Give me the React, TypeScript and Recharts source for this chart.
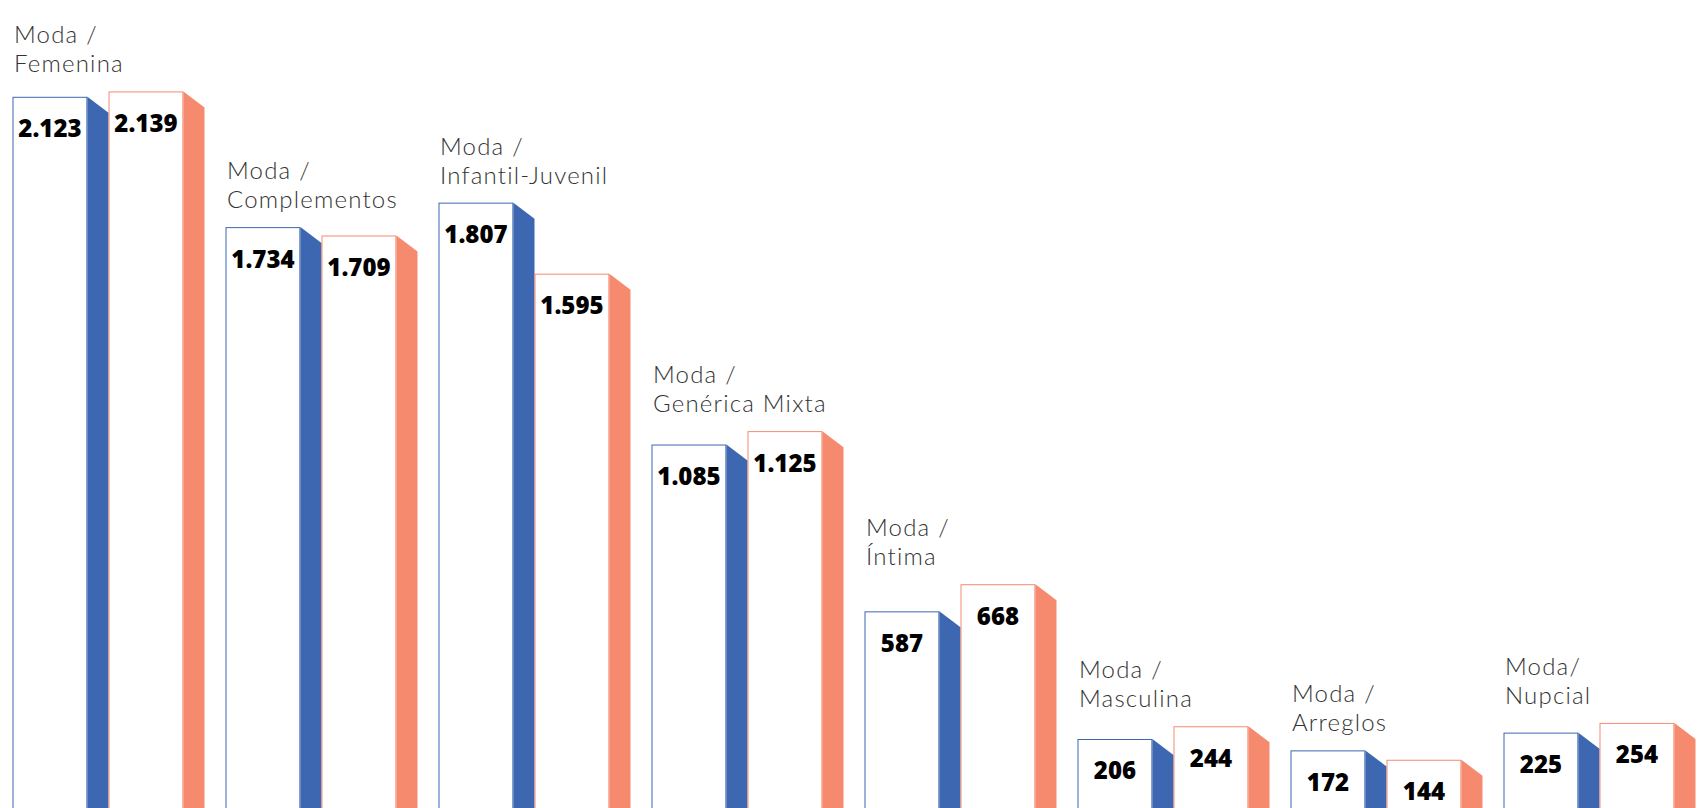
import { BarChart, Bar, XAxis, YAxis } from 'recharts';

const LINE_ONE = ['Moda /', 'Moda /', 'Moda /', 'Moda /', 'Moda /', 'Moda /', 'Moda /', 'Moda/'];
const LINE_TWO = [
  'Femenina',
  'Complementos',
  'Infantil-Juvenil',
  'Genérica Mixta',
  'Íntima',
  'Masculina',
  'Arreglos',
  'Nupcial',
];
const BLUE_VALUES = [2123, 1734, 1807, 1085, 587, 206, 172, 225];
const ORANGE_VALUES = [2139, 1709, 1595, 1125, 668, 244, 144, 254];

const BLUE = '#3D67B1';
const ORANGE = '#F58A6E';
const FACE_RATIO = 0.78;
const SLANT = 16;

const data = LINE_TWO.map((name, i) => ({
  name,
  top: LINE_ONE[i],
  blue: BLUE_VALUES[i],
  orange: ORANGE_VALUES[i],
}));

// 2123 -> "2.123"
const fmt = (n: number) => String(n).replace(/\B(?=(\d{3})+(?!\d))/g, '.');

const valueFont = "'Open Sans', 'DejaVu Sans', sans-serif";
const captionFont = "Lato, 'Open Sans', sans-serif";

function drawBox(props: any, color: string, value: number) {
  const { x, y, width, height } = props;
  const fw = width * FACE_RATIO;
  const bottom = y + height + 20;
  return (
    <g>
      <rect
        x={x + 0.5}
        y={y + 0.5}
        width={fw - 1}
        height={bottom - y}
        fill="#fff"
        stroke={color}
        strokeWidth={1}
      />
      <polygon
        points={`${x + fw},${y} ${x + width},${y + SLANT} ${x + width},${bottom} ${x + fw},${bottom}`}
        fill={color}
      />
      <text
        x={x + fw / 2}
        y={y + 31}
        textAnchor="middle"
        dominantBaseline="central"
        fontFamily={valueFont}
        fontWeight={800}
        fontSize={24}
        fill="#000"
      >
        {fmt(value)}
      </text>
    </g>
  );
}

function BlueShape(props: any) {
  return drawBox(props, BLUE, props.payload.blue);
}

// orange bar also carries the group caption, placed above the taller bar
function OrangeShape(props: any) {
  const { x, y, width, height, payload } = props;
  const base = y + height;
  const perUnit = payload.orange > 0 ? height / payload.orange : 0;
  const blueTop = base - payload.blue * perUnit;
  const top = Math.min(y, blueTop);
  const left = x - width + 1.5;
  return (
    <g>
      {drawBox(props, ORANGE, payload.orange)}
      <text
        x={left}
        y={top - 48}
        fontFamily={captionFont}
        fontWeight={300}
        fontSize={24}
        letterSpacing={1.2}
        fill="#333"
      >
        <tspan x={left}>{payload.top}</tspan>
        <tspan x={left} dy={29}>
          {payload.name}
        </tspan>
      </text>
    </g>
  );
}

export default function App() {
  return (
    <div
      style={{
        position: 'fixed',
        left: 0,
        top: 0,
        width: 1703,
        height: 808,
        overflow: 'hidden',
        background: '#fff',
      }}
    >
      <BarChart
        width={1712}
        height={808}
        data={data}
        margin={{ top: 4, right: 6, bottom: 0, left: 2 }}
        barCategoryGap={10.5}
        barGap={0}
      >
        <XAxis dataKey="name" hide />
        <YAxis hide domain={[0, 2400]} />
        <Bar dataKey="blue" shape={<BlueShape />} isAnimationActive={false} />
        <Bar dataKey="orange" shape={<OrangeShape />} isAnimationActive={false} />
      </BarChart>
    </div>
  );
}
